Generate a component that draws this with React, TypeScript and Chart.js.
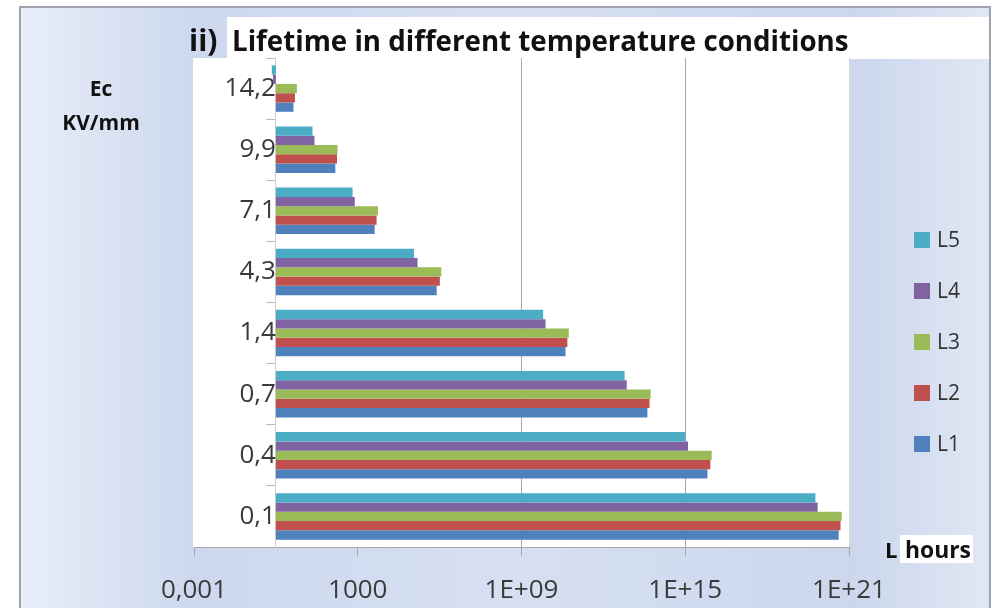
import React, { useEffect, useRef } from 'react';
import { Chart, registerables } from 'chart.js';

Chart.register(...registerables);

// ---- Data ----
// categories, bottom to top (Ec in KV/mm)
const categories = ['0,1', '0,4', '0,7', '1,4', '4,3', '7,1', '9,9', '14,2'];
// lifetime L in hours per series
const L1 = [4.2e20, 6.5e15, 4.1e13, 4.1e10, 7.8e5, 4170, 151, 4.4];
const L2 = [4.9e20, 8.3e15, 4.9e13, 4.8e10, 1.02e6, 4900, 174, 5.0];
const L3 = [5.4e20, 9.3e15, 5.4e13, 5.4e10, 1.15e6, 5500, 182, 5.9];
const L4 = [7.1e19, 1.26e15, 7.2e12, 7.6e9, 1.55e5, 776, 26, 0.78];
const L5 = [5.9e19, 1.02e15, 6.0e12, 6.2e9, 1.15e5, 646, 22, 0.71];
const seriesNames = ['L5', 'L4', 'L3', 'L2', 'L1'];
const seriesData = [L5, L4, L3, L2, L1];
const seriesColors = ['#4BACC6', '#8064A2', '#9BBB59', '#C0504D', '#4F81BD'];
const tickValues = [1e-3, 1e3, 1e9, 1e15, 1e21];
const tickLabels = ['0,001', '1000', '1E+09', '1E+15', '1E+21'];
const gridValues = [1e9, 1e15];
const barBase = 1;

const FONT = '"Open Sans", "Liberation Sans", sans-serif';

function fitSize(ctx: CanvasRenderingContext2D, text: string, weight: string, target: number) {
  ctx.font = `${weight} 100px ${FONT}`;
  const w = ctx.measureText(text).width;
  return (100 * target) / w;
}

const backgroundPlugin = {
  id: 'bgPanel',
  beforeDraw(chart: any) {
    const { ctx, width, height, chartArea } = chart;
    ctx.save();
    ctx.fillStyle = '#ffffff';
    ctx.fillRect(0, 0, width, height);
    const g = ctx.createLinearGradient(20, 0, 990, 0);
    g.addColorStop(0, '#e8eef8');
    g.addColorStop(0.18, '#cdd8ee');
    g.addColorStop(0.5, '#d7e0f2');
    g.addColorStop(0.86, '#ccd7ed');
    g.addColorStop(1, '#e0e7f4');
    ctx.fillStyle = g;
    ctx.fillRect(20, 7, 970, height);
    ctx.strokeStyle = '#9ea4ae';
    ctx.lineWidth = 2;
    ctx.strokeRect(20, 7, 970, height + 10);
    // title white box
    ctx.fillStyle = '#ffffff';
    ctx.fillRect(227, 17, 762, 42);
    // plot area
    ctx.fillRect(chartArea.left - 1, chartArea.top, chartArea.right - chartArea.left + 1, chartArea.bottom - chartArea.top);
    ctx.restore();
  },
};

const overlayPlugin = {
  id: 'overlay',
  afterDraw(chart: any) {
    const { ctx } = chart;
    ctx.save();
    ctx.fillStyle = '#111111';
    ctx.textBaseline = 'alphabetic';
    ctx.textAlign = 'left';
    // title
    ctx.font = `bold 30px ${FONT}`;
    ctx.fillText('ii)', 189, 51);
    const title = 'Lifetime in different temperature conditions';
    const ts = fitSize(ctx, title, 'bold', 617);
    ctx.font = `bold ${ts}px ${FONT}`;
    ctx.fillText(title, 232, 51);
    // y axis title
    ctx.textAlign = 'center';
    ctx.font = `bold 21px ${FONT}`;
    ctx.fillText('Ec', 101, 96);
    ctx.fillText('KV/mm', 101, 130);
    // x axis title
    ctx.fillStyle = '#ffffff';
    ctx.fillRect(900, 535, 73, 28);
    ctx.fillStyle = '#111111';
    ctx.textAlign = 'left';
    ctx.font = `bold 22px ${FONT}`;
    ctx.fillText('L', 885, 558);
    const hs = fitSize(ctx, 'hours', 'bold', 66);
    ctx.font = `bold ${hs}px ${FONT}`;
    ctx.fillText('hours', 905, 558);
    // legend
    ctx.font = `21px ${FONT}`;
    ctx.textBaseline = 'middle';
    chart.data.datasets.forEach((ds: any, i: number) => {
      const cy = 240 + i * 51;
      ctx.fillStyle = ds.backgroundColor;
      ctx.fillRect(914, cy - 8, 16, 16);
      ctx.fillStyle = '#333333';
      ctx.fillText(ds.label, 937, cy + 1);
    });
    ctx.restore();
  },
};

export default function App() {
  const canvasRef = useRef<HTMLCanvasElement | null>(null);

  useEffect(() => {
    if (!canvasRef.current) return;
    const chart = new Chart(canvasRef.current, {
      type: 'bar',
      data: {
        labels: categories,
        datasets: seriesNames.map((name, i) => ({
          label: name,
          data: seriesData[i],
          backgroundColor: seriesColors[i],
          borderWidth: 0,
          base: barBase,
          categoryPercentage: 0.76,
          barPercentage: 1,
        })),
      },
      options: {
        indexAxis: 'y',
        animation: false,
        responsive: false,
        maintainAspectRatio: false,
        devicePixelRatio: 1,
        layout: { padding: { left: 194, top: 58, right: 148, bottom: 0 } },
        scales: {
          x: {
            type: 'logarithmic',
            position: 'bottom',
            min: 1e-3,
            max: 1e21,
            afterBuildTicks: (scale: any) => {
              scale.ticks = tickValues.map((v) => ({ value: v }));
            },
            afterFit: (scale: any) => {
              scale.height = 61;
            },
            ticks: {
              autoSkip: false,
              maxRotation: 0,
              padding: 19,
              color: '#3a3a3a',
              font: { family: FONT, size: 26 },
              callback: (_v: any, i: number) => tickLabels[i],
            },
            grid: {
              drawTicks: true,
              tickLength: 9,
              tickColor: '#a6a6a6',
              color: (ctx: any) => {
                const v = ctx.tick ? ctx.tick.value : null;
                if (v !== null && gridValues.some((g) => Math.abs(Math.log10(g) - Math.log10(v)) < 1e-6)) return '#a8a8a8';
                if (v !== null && Math.abs(Math.log10(v) - 21) < 1e-6) return '#d8d8d8';
                return 'rgba(0,0,0,0)';
              },
            },
            border: { display: true, color: '#a6a6a6', width: 1 },
          },
          y: {
            type: 'category',
            reverse: true,
            offset: true,
            position: { x: barBase } as any,
            ticks: {
              padding: 21,
              color: '#3a3a3a',
              font: { family: FONT, size: 26 },
            },
            grid: {
              drawOnChartArea: false,
              drawTicks: true,
              tickLength: 9,
              tickColor: '#b8b8b8',
              offset: true,
            },
            border: { display: true, color: '#d0d0d0', width: 1 },
          },
        },
        plugins: {
          legend: { display: false },
          tooltip: { enabled: false },
          title: { display: false },
        },
      } as any,
      plugins: [backgroundPlugin, overlayPlugin],
    });
    return () => chart.destroy();
  }, []);

  return (
    <div style={{ position: 'absolute', left: 0, top: 0, width: 997, height: 608 }}>
      <canvas ref={canvasRef} width={997} height={608} style={{ width: 997, height: 608, display: 'block' }} />
    </div>
  );
}
